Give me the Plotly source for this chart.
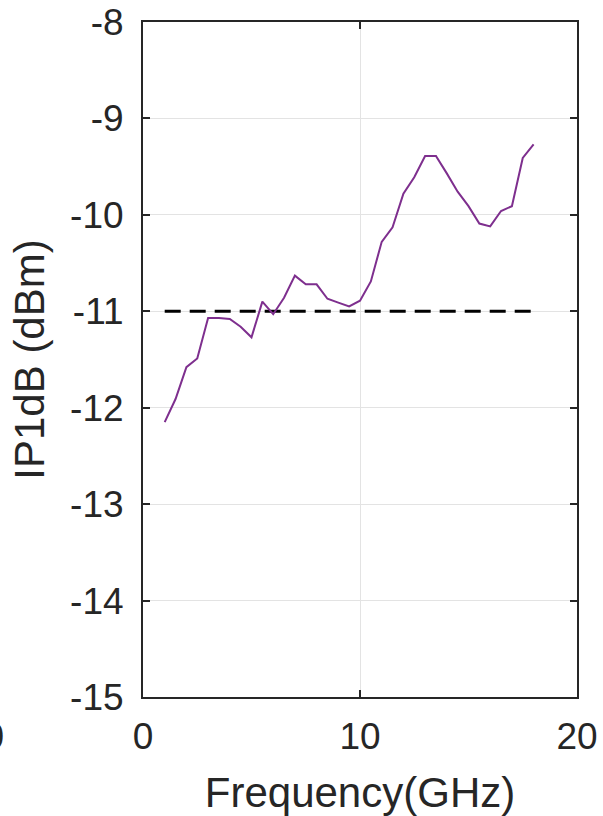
import plotly.graph_objects as go

# Measured input 1-dB compression point versus frequency
freq_ghz = [1.0, 1.5, 2.0, 2.5, 3.0, 3.5, 4.0, 4.5, 5.0, 5.5, 6.0, 6.5, 7.0, 7.5,
            8.0, 8.5, 9.0, 9.5, 10.0, 10.5, 11.0, 11.5, 12.0, 12.5, 13.0, 13.5,
            14.0, 14.5, 15.0, 15.5, 16.0, 16.5, 17.0, 17.5, 18.0]
ip1db_dbm = [-12.15, -11.91, -11.58, -11.49, -11.07, -11.07, -11.08, -11.16, -11.27,
             -10.90, -11.03, -10.86, -10.63, -10.72, -10.72, -10.87, -10.91, -10.95,
             -10.89, -10.69, -10.28, -10.13, -9.78, -9.61, -9.39, -9.39, -9.57,
             -9.76, -9.91, -10.09, -10.12, -9.96, -9.91, -9.41, -9.27]

# Reference level
ref_freq = [1.0, 18.0]
ref_level = [-11.0, -11.0]

x_ticks = [0, 10, 20]
y_ticks = [-15, -14, -13, -12, -11, -10, -9, -8]
y_tick_labels = ["-15", "-14", "-13", "-12", "-11", "-10", "-9", "-8"]

FONT = "Liberation Sans, Arial, sans-serif"
INK = "#262626"

fig = go.Figure()
fig.add_trace(go.Scatter(x=ref_freq, y=ref_level, mode="lines",
                         line=dict(color="black", width=3, dash="16px,9px"),
                         showlegend=False, hoverinfo="skip"))
fig.add_trace(go.Scatter(x=freq_ghz, y=ip1db_dbm, mode="lines",
                         line=dict(color="#7E2F8E", width=2),
                         showlegend=False))

axis_common = dict(
    showline=True, linecolor=INK, linewidth=2, mirror="ticks",
    ticks="inside", ticklen=7, tickwidth=2, tickcolor=INK,
    gridcolor="#e3e3e3", gridwidth=1, zeroline=False, automargin=False,
    tickfont=dict(family=FONT, size=37, color=INK),
)

fig.update_xaxes(range=[0, 20], tickvals=x_ticks, showgrid=True,
                 ticklabelstandoff=6,
                 title=dict(text="Frequency(GHz)", standoff=26,
                            font=dict(family=FONT, size=42, color=INK)),
                 **axis_common)
fig.update_yaxes(range=[-15, -8], tickvals=y_ticks, ticktext=y_tick_labels,
                 showgrid=True, ticklabelstandoff=10,
                 title=dict(text="IP1dB (dBm)", standoff=12,
                            font=dict(family=FONT, size=42, color=INK)),
                 **axis_common)

# Right-hand edge of the neighbouring panel's last tick label
fig.add_annotation(text="20", xref="paper", yref="paper",
                   x=(6 - 143) / 434, y=0.0,
                   xanchor="right", yanchor="top", yshift=-17,
                   showarrow=False, font=dict(family=FONT, size=37, color=INK))

fig.update_layout(
    width=603, height=816,
    margin=dict(l=143, r=26, t=22, b=119),
    plot_bgcolor="white", paper_bgcolor="white",
)

fig.write_html("out.html")
